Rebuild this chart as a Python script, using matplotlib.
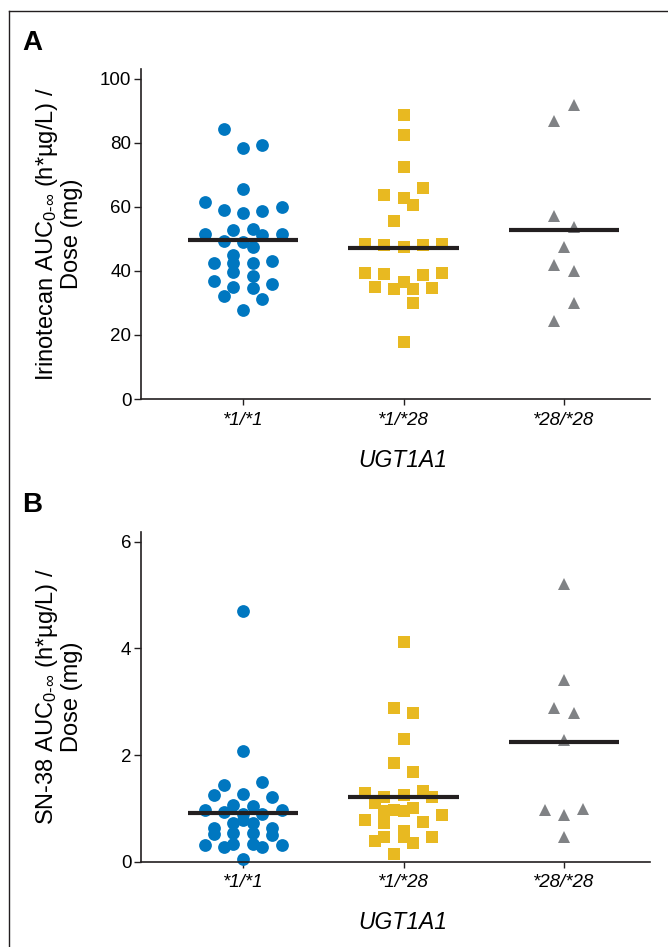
import matplotlib
matplotlib.use("Agg")
import matplotlib.pyplot as plt
from matplotlib.lines import Line2D

plt.rcParams["font.family"] = ["Liberation Sans Narrow", "Liberation Sans", "DejaVu Sans"]
plt.rcParams["mathtext.fontset"] = "custom"
plt.rcParams["mathtext.rm"] = "Liberation Sans"
plt.rcParams["mathtext.it"] = "Liberation Sans:italic"

genotypes = ["*1/*1", "*1/*28", "*28/*28"]

# Panel A: irinotecan AUC / dose, with the swarm column of each point
irino_11 = [84.4, 78.5, 79.2, 65.7, 61.6, 59.1, 58.2, 58.6, 60.1, 51.6, 52.8, 53.2, 51.3, 51.6,
            49.5, 49.2, 47.6, 45.0, 42.4, 42.4, 42.4, 43.1, 39.8, 38.4, 36.9, 35.9, 34.9, 34.6,
            32.2, 31.3, 27.8]
irino_11_col = [-2, 0, 2, 0, -4, -2, 0, 2, 4, -4, -1, 1, 2, 4,
                -2, 0, 1, -1, -1, -3, 1, 3, -1, 1, -3, 3, -1, 1,
                -2, 2, 0]
irino_128 = [88.7, 82.4, 72.4, 65.8, 63.6, 62.7, 60.5, 55.5, 48.3, 48.0, 47.4, 48.0, 48.3,
             39.3, 39.1, 38.6, 39.3, 34.9, 34.4, 36.6, 34.5, 34.7, 29.9, 17.7]
irino_128_col = [0, 0, 0, 2, -2, 0, 1, -1, -4, -2, 0, 2, 4,
                 -4, -2, 2, 4, -3, -1, 0, 1, 3, 1, 0]
irino_2828 = [92.0, 86.7, 57.3, 53.6, 47.6, 41.9, 40.0, 29.9, 24.4]
irino_2828_col = [1, -1, -1, 1, 0, -1, 1, 1, -1]
irino_means = [49.7, 47.3, 52.9]

# Panel B: SN-38 AUC / dose
sn38_11 = [4.70, 2.08, 1.44, 1.49, 1.25, 1.27, 1.21, 1.06, 1.04, 0.97, 0.93, 0.89, 0.89, 0.97,
           0.79, 0.72, 0.72, 0.64, 0.52, 0.64, 0.51, 0.53, 0.53, 0.34, 0.34, 0.31, 0.28, 0.28,
           0.31, 0.06]
sn38_11_col = [0, 0, -2, 2, -3, 0, 3, -1, 1, -4, -2, 0, 2, 4,
               0, -1, 1, -3, -3, 3, 3, -1, 1, -1, 1, -4, -2, 2,
               4, 0]
sn38_128 = [4.12, 2.88, 2.78, 2.31, 1.85, 1.68, 1.29, 1.22, 1.25, 1.33, 1.21, 1.11, 0.96, 0.97,
            0.96, 1.00, 0.87, 0.78, 0.74, 0.73, 0.57, 0.47, 0.46, 0.38, 0.36, 0.46, 0.14]
sn38_128_col = [0, -1, 1, 0, -1, 1, -4, -2, 0, 2, 3, -3, -2, -1,
                0, 1, 4, -4, 2, -2, 0, 0, -2, -3, 1, 3, -1]
sn38_2828 = [5.20, 3.41, 2.88, 2.79, 2.28, 0.97, 0.88, 0.99, 0.47]
sn38_2828_col = [0, 0, -1, 1, 0, -2, 0, 2, 0]
sn38_means = [0.906, 1.22, 2.24]

colors = ["#0077c0", "#e8b921", "#808285"]
markers = ["o", "s", "^"]
sizes = [9.2, 9.2, 8.8]
col_step = 0.06
ink = "#231f20"

fig = plt.figure(figsize=(6.68, 9.47), dpi=100)

# outer frame (top and left edges)
fig.add_artist(Line2D([9 / 668, 1.0], [1 - 11 / 947, 1 - 11 / 947], color=ink, lw=1.0))
fig.add_artist(Line2D([9 / 668, 9 / 668], [0, 1 - 11 / 947], color=ink, lw=1.0))


def panel(ax, groups, cols, means, ymax, yticks, ylabel):
    for i, (vals, cl) in enumerate(zip(groups, cols)):
        xs = [i + c * col_step for c in cl]
        ax.plot(xs, vals, linestyle="none", marker=markers[i], ms=sizes[i],
                color=colors[i], mew=0, clip_on=False, zorder=2)
        ax.plot([i - 0.345, i + 0.345], [means[i], means[i]], color=ink, lw=3.0,
                solid_capstyle="butt", zorder=3)
    ax.set_xlim(-0.636, 2.536)
    ax.set_ylim(0, ymax)
    ax.set_yticks(yticks)
    ax.set_xticks(range(3))
    ax.set_xticklabels(genotypes, fontstyle="italic", fontsize=13.5)
    ax.tick_params(axis="y", labelsize=13.5, length=5, width=1.0, color=ink, pad=2)
    ax.tick_params(axis="x", length=4, width=1.0, color=ink, pad=5)
    for s in ["top", "right"]:
        ax.spines[s].set_visible(False)
    for s in ["left", "bottom"]:
        ax.spines[s].set_color(ink)
        ax.spines[s].set_linewidth(1.2)
    ax.set_xlabel("UGT1A1", fontstyle="italic", fontsize=16.5)
    ax.xaxis.set_label_coords(0.515, -0.15)
    ax.text(-0.162, 0.5, ylabel, transform=ax.transAxes, rotation=90,
            ha="center", va="center", fontsize=17, multialignment="center",
            linespacing=1.05)


axA = fig.add_axes([141 / 668, 1 - 399 / 947, 509 / 668, 330 / 947])
panel(axA, [irino_11, irino_128, irino_2828],
      [irino_11_col, irino_128_col, irino_2828_col], irino_means,
      103.1, [0, 20, 40, 60, 80, 100],
      "Irinotecan AUC$_{0\\text{-}\\infty}$ (h*µg/L) /\nDose (mg)")

axB = fig.add_axes([141 / 668, 1 - 861.7 / 947, 509 / 668, 330 / 947])
panel(axB, [sn38_11, sn38_128, sn38_2828],
      [sn38_11_col, sn38_128_col, sn38_2828_col], sn38_means,
      6.19, [0, 2, 4, 6],
      "SN-38 AUC$_{0\\text{-}\\infty}$ (h*µg/L) /\nDose (mg)")

fig.text(22 / 668, 1 - 50 / 947, "A", fontsize=20, fontweight="bold",
         family=["Liberation Sans", "DejaVu Sans"])
fig.text(22 / 668, 1 - 512 / 947, "B", fontsize=20, fontweight="bold",
         family=["Liberation Sans", "DejaVu Sans"])

fig.savefig("out.png", dpi=100)
